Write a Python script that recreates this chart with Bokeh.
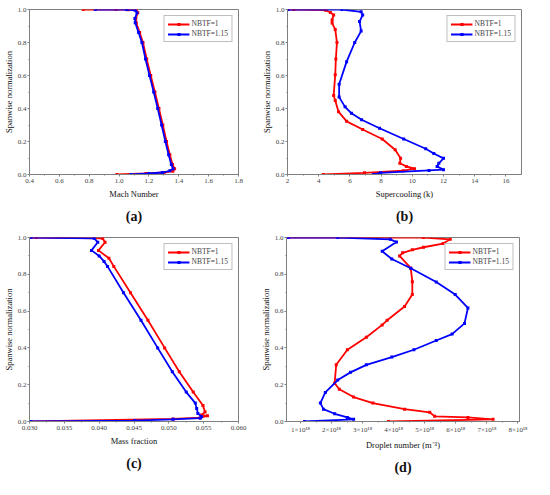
from bokeh.plotting import figure
from bokeh.layouts import column, row
from bokeh.models import FixedTicker, Legend, LegendItem, Title, Range1d
from bokeh.embed import file_html
from bokeh.resources import INLINE

# ---------------- data ----------------
span_ticks = [0.0, 0.2, 0.4, 0.6, 0.8, 1.0]
span_tick_labels = ["0.0", "0.2", "0.4", "0.6", "0.8", "1.0"]
span_minor = [0.1, 0.3, 0.5, 0.7, 0.9]

# (a) Mach number
mach_ticks = [0.4, 0.6, 0.8, 1.0, 1.2, 1.4, 1.6, 1.8]
mach_tick_labels = ["0.4", "0.6", "0.8", "1.0", "1.2", "1.4", "1.6", "1.8"]
mach_red_x = [0.76, 0.98, 1.06, 1.116, 1.125, 1.112, 1.115, 1.138, 1.16, 1.185, 1.212, 1.24,
              1.267, 1.293, 1.318, 1.34, 1.358, 1.372, 1.36, 1.3, 1.18, 0.985]
mach_red_y = [1.0, 1.0, 0.999, 0.995, 0.98, 0.945, 0.92, 0.86, 0.80, 0.70, 0.60, 0.50,
              0.40, 0.30, 0.20, 0.12, 0.06, 0.035, 0.02, 0.012, 0.006, 0.0]
mach_blue_x = [0.84, 1.05, 1.108, 1.12, 1.106, 1.108, 1.131, 1.153, 1.177, 1.204, 1.232,
               1.259, 1.285, 1.31, 1.332, 1.35, 1.362, 1.34, 1.29, 1.2, 1.08]
mach_blue_y = [1.0, 1.0, 0.995, 0.98, 0.945, 0.92, 0.86, 0.80, 0.70, 0.60, 0.50,
               0.40, 0.30, 0.20, 0.12, 0.06, 0.035, 0.022, 0.012, 0.006, 0.0]

# (b) Supercooling
sc_ticks = [2, 4, 6, 8, 10, 12, 14, 16]
sc_tick_labels = ["2", "4", "6", "8", "10", "12", "14", "16"]
sc_red_x = [2.05, 2.4, 4.44, 4.75, 4.96, 4.86, 4.86, 5.06, 5.17, 5.1, 5.06, 4.96, 5.06, 5.27,
            5.79, 6.82, 8.07, 8.9, 9.25, 9.2, 9.62, 10.14, 9.41, 6.93, 4.3]
sc_red_y = [1.0, 1.0, 0.996, 0.982, 0.967, 0.937, 0.918, 0.879, 0.80, 0.70, 0.605, 0.479, 0.449,
            0.381, 0.322, 0.273, 0.215, 0.15, 0.098, 0.068, 0.049, 0.035, 0.023, 0.01, 0.0]
sc_blue_x = [2.05, 5.48, 6.72, 6.82, 6.62, 6.72, 6.31, 5.79, 5.31, 5.31, 5.69, 6.1, 6.75, 7.9,
             9.45, 10.86, 11.38, 12.0, 11.7, 11.59, 12.0, 11.07, 7.97, 7.5]
sc_blue_y = [1.0, 1.0, 0.986, 0.967, 0.927, 0.869, 0.80, 0.684, 0.547, 0.469, 0.41, 0.371, 0.332,
             0.28, 0.215, 0.156, 0.127, 0.098, 0.068, 0.049, 0.029, 0.025, 0.01, 0.0]

# (c) Mass fraction
mf_ticks = [0.030, 0.035, 0.040, 0.045, 0.050, 0.055, 0.060]
mf_tick_labels = ["0.030", "0.035", "0.040", "0.045", "0.050", "0.055", "0.060"]
mf_red_x = [0.0302, 0.031, 0.0405, 0.04085, 0.0399, 0.0414, 0.0421, 0.0445, 0.0470, 0.0494,
            0.0515, 0.0535, 0.0549, 0.0552, 0.0547, 0.05555, 0.0545, 0.0506, 0.0302]
mf_red_y = [1.0, 1.0, 0.995, 0.974, 0.93, 0.887, 0.843, 0.70, 0.55, 0.40,
            0.27, 0.16, 0.087, 0.052, 0.035, 0.031, 0.021, 0.014, 0.0]
mf_blue_x = [0.0302, 0.0393, 0.0398, 0.0389, 0.0400, 0.0407, 0.0412, 0.0435, 0.0460, 0.0484,
             0.0505, 0.0525, 0.0538, 0.0540, 0.05417, 0.0547, 0.0545, 0.0506, 0.0451, 0.0302]
mf_blue_y = [1.0, 0.995, 0.974, 0.93, 0.90, 0.87, 0.843, 0.70, 0.55, 0.40,
             0.27, 0.16, 0.10, 0.07, 0.044, 0.026, 0.018, 0.012, 0.005, 0.0]

# (d) Droplet number (units of 1e18 m^-3)
dn_ticks = [1, 2, 3, 4, 5, 6, 7, 8]
dn_tick_labels = ["1×10¹⁸", "2×10¹⁸", "3×10¹⁸", "4×10¹⁸", "5×10¹⁸", "6×10¹⁸", "7×10¹⁸", "8×10¹⁸"]
dn_red_x = [0.6, 4.96, 5.82, 5.59, 4.96, 4.6, 4.29, 4.19, 4.55, 4.6, 4.6, 4.35, 3.79, 3.63, 3.12,
            2.51, 2.15, 2.1, 2.25, 2.71, 3.33, 4.35, 5.16, 5.32, 6.39, 7.2, 3.83]
dn_red_y = [1.0, 1.0, 0.99, 0.967, 0.947, 0.933, 0.917, 0.90, 0.833, 0.76, 0.69, 0.625, 0.55,
            0.525, 0.458, 0.39, 0.308, 0.208, 0.175, 0.133, 0.10, 0.067, 0.05, 0.028, 0.022, 0.012, 0.0]
dn_blue_x = [0.6, 2.2, 3.89, 4.09, 3.63, 3.94, 4.55, 5.37, 5.98, 6.39, 6.28, 5.88, 5.37, 4.65,
             3.94, 3.12, 2.61, 2.2, 1.8, 1.64, 1.74, 2.1, 2.51, 2.71, 1.13]
dn_blue_y = [1.0, 1.0, 0.99, 0.975, 0.925, 0.883, 0.833, 0.758, 0.69, 0.617, 0.533, 0.475,
             0.44, 0.39, 0.35, 0.308, 0.267, 0.225, 0.158, 0.10, 0.067, 0.042, 0.022, 0.012, 0.0]

series_labels = ["NBTF=1", "NBTF=1.15"]

# ---------------- style ----------------
SERIF = "Liberation Serif"
RED = "#FF0000"
BLUE = "#0000FF"
GRAY = "#7f7f7f"


def panel(width, height, borders, xrange, xticks, xlabels, xtitle, tag, tag_offset,
          red, blue):
    bl, br, bt, bb = borders
    p = figure(width=width, height=height, output_backend="svg", toolbar_location=None,
               title=None, x_range=Range1d(*xrange), y_range=Range1d(0, 1.0))
    p.min_border_left = bl
    p.min_border_right = br
    p.min_border_top = bt
    p.min_border_bottom = bb
    p.grid.visible = False
    p.outline_line_color = GRAY
    p.outline_line_width = 1
    p.background_fill_color = "white"
    p.border_fill_color = "white"

    xminor = [(a + b) / 2 for a, b in zip(xticks[:-1], xticks[1:])]
    p.xaxis.ticker = FixedTicker(ticks=xticks, minor_ticks=xminor)
    p.xaxis.major_label_overrides = {t: l for t, l in zip(xticks, xlabels)}
    p.yaxis.ticker = FixedTicker(ticks=span_ticks, minor_ticks=span_minor)
    p.yaxis.major_label_overrides = {t: l for t, l in zip(span_ticks, span_tick_labels)}

    for ax in (p.xaxis[0], p.yaxis[0]):
        ax.axis_line_color = GRAY
        ax.major_tick_line_color = GRAY
        ax.minor_tick_line_color = GRAY
        ax.major_tick_in = 0
        ax.major_tick_out = 2
        ax.minor_tick_in = 0
        ax.minor_tick_out = 1
        ax.major_label_text_font = SERIF
        ax.major_label_text_font_size = "7px"
        ax.major_label_text_color = "#444444"
        ax.major_label_standoff = 1
        ax.axis_label_text_font = SERIF
        ax.axis_label_text_font_size = "8.5px"
        ax.axis_label_text_font_style = "normal"
        ax.axis_label_text_color = "#111111"
        ax.axis_label_standoff = 1
    p.xaxis.axis_label_standoff = 3
    p.xaxis.major_label_standoff = 2
    p.xaxis.axis_label = xtitle
    p.yaxis.axis_label = "Spanwise normalization"

    items = []
    for (xs, ys), col, lab in zip((red, blue), (RED, BLUE), series_labels):
        r1 = p.line(xs, ys, line_color=col, line_width=1.8)
        r2 = p.scatter(xs, ys, marker="square", size=3, fill_color=col, line_width=0)
        items.append(LegendItem(label=lab, renderers=[r1, r2]))
    leg = Legend(items=items, location="top_right", border_line_color=GRAY,
                 border_line_width=1, label_text_font=SERIF, label_text_font_size="7.5px",
                 glyph_width=22, glyph_height=8, label_height=8, spacing=1, padding=3,
                 margin=6, label_standoff=2, background_fill_alpha=1.0)
    p.add_layout(leg)

    t = Title(text=tag, align="center", offset=tag_offset, text_font=SERIF,
              text_font_size="14px", text_font_style="bold", text_color="#111111")
    p.add_layout(t, "below")
    return p


pa = panel(257, 230, (26, 19, 7, 54), (0.4, 1.8), mach_ticks, mach_tick_labels,
           "Mach Number", "(a)", -9, (mach_red_x, mach_red_y), (mach_blue_x, mach_blue_y))
pb = panel(277, 230, (30, 13, 9, 56), (2, 17), sc_ticks, sc_tick_labels,
           "Supercooling (k)", "(b)", -12, (sc_red_x, sc_red_y), (sc_blue_x, sc_blue_y))
pc = panel(257, 249, (26, 19, 7, 56), (0.030, 0.060), mf_ticks, mf_tick_labels,
           "Mass fraction", "(c)", -28, (mf_red_x, mf_red_y), (mf_blue_x, mf_blue_y))
pd = panel(277, 249, (26, 15, 3, 53), (0.55, 8.05), dn_ticks, dn_tick_labels,
           "Droplet number (m⁻³)", "(d)", -6, (dn_red_x, dn_red_y), (dn_blue_x, dn_blue_y))

layout = column(row(pa, pb), row(pc, pd))

open("out.html", "w").write(file_html(layout, INLINE))
